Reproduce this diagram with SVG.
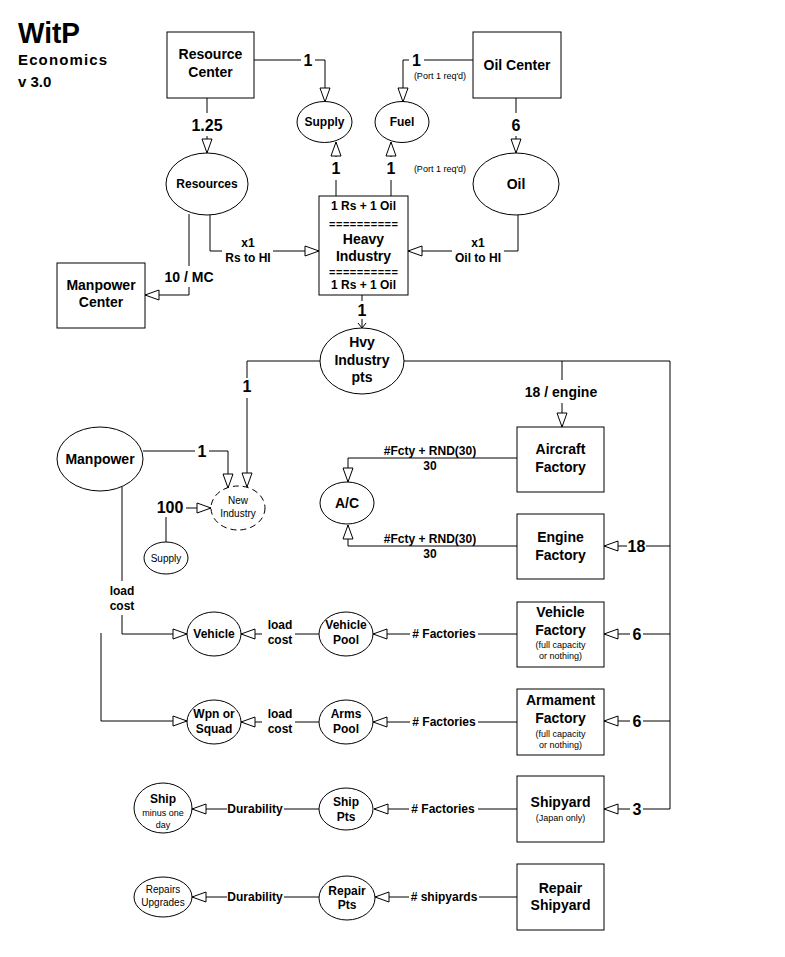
<svg xmlns="http://www.w3.org/2000/svg" width="785" height="957" viewBox="0 0 785 957">
<defs>
<style>
.n{fill:#fff;stroke:#000;stroke-width:1}
.d{stroke-dasharray:6,4}
.c{fill:none;stroke:#000;stroke-width:1}
.a{marker-end:url(#arr)}
.v{marker-end:url(#vee)}
text{font-family:"Liberation Sans",Arial,sans-serif;text-anchor:middle;fill:#000}
.b14{font-size:14px;font-weight:bold}
.b12{font-size:12px;font-weight:bold}
.b16{font-size:16px;font-weight:bold}
.eq{font-size:11px;font-weight:bold}
.r10{font-size:10px}
.r9{font-size:9px}
</style>
<marker id="arr" viewBox="-1 -1 16 12" refX="14" refY="5" markerWidth="16" markerHeight="12" markerUnits="userSpaceOnUse" orient="auto">
<path d="M0,0 L14,5 L0,10 Z" fill="#fff" stroke="#000" stroke-width="1"/>
</marker>
<marker id="vee" viewBox="-1 -1 7 10" refX="5" refY="4" markerWidth="7" markerHeight="10" markerUnits="userSpaceOnUse" orient="auto">
<path d="M0,0 L5,4 L0,8" fill="none" stroke="#000" stroke-width="1"/>
</marker>
</defs>
<rect width="785" height="957" fill="#fff"/>

<g id="title">
<text x="18" y="43" style="font-size:30px;font-weight:bold;text-anchor:start" textLength="62" lengthAdjust="spacingAndGlyphs">WitP</text>
<text x="18" y="65" style="font-size:15px;font-weight:bold;text-anchor:start" textLength="89">Economics</text>
<text x="18" y="87" style="font-size:15px;font-weight:bold;text-anchor:start">v 3.0</text>
</g>

<g id="connectors">
<path class="c" d="M254,60 H301"/>
<text class="b16" x="308" y="66">1</text>
<path class="c a" d="M315,60 H325 V102"/>
<path class="c" d="M473,60 H424"/>
<text class="b16" x="416.5" y="66">1</text>
<path class="c a" d="M409,60 H403 V102"/>
<text class="r9" x="440" y="79">(Port 1 req'd)</text>
<path class="c" d="M336,196 V180"/>
<text class="b16" x="336" y="174">1</text>
<path class="c a" d="M336,157 V142"/>
<path class="c" d="M391,196 V180"/>
<text class="b16" x="391" y="174">1</text>
<path class="c a" d="M391,157 V142"/>
<text class="r9" x="440" y="172">(Port 1 req'd)</text>
<path class="c" d="M516,98 V113"/>
<text class="b16" x="516" y="131">6</text>
<path class="c a" d="M516,136 V153"/>
<path class="c" d="M207,98 V113"/>
<text class="b16" x="207" y="131">1.25</text>
<path class="c a" d="M207,136 V153"/>
<path class="c" d="M210,215 V251 H222"/>
<text class="b12" x="248" y="247">x1</text>
<text class="b12" x="248" y="262">Rs to HI</text>
<path class="c a" d="M273,251 H319"/>
<path class="c" d="M189,214 V266"/>
<text class="b14" x="189" y="282">10 / MC</text>
<path class="c a" d="M189,287 V295 H145"/>
<path class="c" d="M518,215 V251 H504"/>
<text class="b12" x="478" y="247">x1</text>
<text class="b12" x="478" y="262">Oil to HI</text>
<path class="c a" d="M452,251 H408"/>
<path class="c" d="M362,295 V301"/>
<text class="b16" x="362" y="316">1</text>
<path class="c v" d="M362,319 V328"/>
<path class="c" d="M320,361 H247 V378"/>
<text class="b16" x="247" y="392">1</text>
<path class="c a" d="M247,398 V487"/>
<path class="c" d="M143,451 H195"/>
<text class="b16" x="202" y="457">1</text>
<path class="c a" d="M209,451 H228 V488"/>
<path class="c" d="M166,542 V517"/>
<text class="b16" x="170" y="513">100</text>
<path class="c a" d="M186,508 H211"/>
<path class="c" d="M122,487 V581"/>
<text class="b12" x="122" y="595">load</text>
<text class="b12" x="122" y="610">cost</text>
<path class="c a" d="M122,615 V634 H187"/>
<path class="c a" d="M101,633 V721 H187"/>
<path class="c" d="M319,634 H295"/>
<text class="b12" x="280" y="629">load</text>
<text class="b12" x="280" y="644">cost</text>
<path class="c a" d="M262,634 H241"/>
<path class="c" d="M319,722 H295"/>
<text class="b12" x="280" y="718">load</text>
<text class="b12" x="280" y="733">cost</text>
<path class="c a" d="M262,722 H241"/>
<path class="c" d="M517,634 H478"/>
<text class="b12" x="444" y="638">#  Factories</text>
<path class="c a" d="M410,634 H373"/>
<path class="c" d="M517,722 H478"/>
<text class="b12" x="444" y="726">#  Factories</text>
<path class="c a" d="M410,722 H373"/>
<path class="c" d="M404,361 H670 V809 H643"/>
<path class="c" d="M562,361 V380"/>
<text class="b14" x="561" y="397">18 / engine</text>
<path class="c a" d="M562,403 V427"/>
<path class="c" d="M670,546 H646"/>
<text class="b16" x="636.5" y="552">18</text>
<path class="c a" d="M627,546 H604"/>
<path class="c" d="M670,634 H643"/>
<text class="b16" x="637" y="640">6</text>
<path class="c a" d="M630,634 H604"/>
<path class="c" d="M670,721 H643"/>
<text class="b16" x="637" y="727">6</text>
<path class="c a" d="M630,721 H604"/>
<text class="b16" x="637" y="815">3</text>
<path class="c a" d="M630,809 H604"/>
<path class="c a" d="M517,458 H348 V482"/>
<text class="b12" x="430" y="455">#Fcty + RND(30)</text>
<text class="b12" x="430" y="470">30</text>
<path class="c a" d="M517,546 H348 V525"/>
<text class="b12" x="430" y="543">#Fcty + RND(30)</text>
<text class="b12" x="430" y="558">30</text>
<path class="c" d="M319,809 H284"/>
<text class="b12" x="255" y="813">Durability</text>
<path class="c a" d="M227,809 H192"/>
<path class="c" d="M517,809 H478"/>
<text class="b12" x="443" y="813">#  Factories</text>
<path class="c a" d="M409,809 H374"/>
<path class="c" d="M319,897 H284"/>
<text class="b12" x="255" y="901">Durability</text>
<path class="c a" d="M227,897 H192"/>
<path class="c" d="M517,897 H479"/>
<text class="b12" x="444" y="901"># shipyards</text>
<path class="c a" d="M409,897 H375"/>
</g>

<g id="resource-center"><rect class="n" x="167" y="32" width="87" height="66"/><text class="b14" x="210.5" y="59">Resource</text><text class="b14" x="210.5" y="77">Center</text></g>
<g id="oil-center"><rect class="n" x="473" y="32" width="88" height="66"/><text class="b14" x="517" y="70">Oil Center</text></g>
<g id="supply"><ellipse class="n" cx="324.5" cy="122" rx="27.5" ry="20.5"/><text class="b12" x="324.5" y="126">Supply</text></g>
<g id="fuel"><ellipse class="n" cx="402" cy="122" rx="27" ry="20.5"/><text class="b12" x="402" y="126">Fuel</text></g>
<g id="oil"><ellipse class="n" cx="516" cy="184" rx="43" ry="31"/><text class="b14" x="516" y="189">Oil</text></g>
<g id="resources"><ellipse class="n" cx="207" cy="184" rx="41" ry="31"/><text class="b12" x="207" y="188">Resources</text></g>
<g id="heavy-industry"><rect class="n" x="319" y="196" width="89" height="99"/><text class="b12" x="363.5" y="210">1 Rs + 1 Oil</text><text class="eq" x="363.5" y="228" textLength="69">==========</text><text class="b14" x="363.5" y="244">Heavy</text><text class="b14" x="363.5" y="261">Industry</text><text class="eq" x="363.5" y="276" textLength="69">==========</text><text class="b12" x="363.5" y="289">1 Rs + 1 Oil</text></g>
<g id="hvy-industry-pts"><ellipse class="n" cx="362" cy="361" rx="42" ry="33"/><text class="b14" x="362" y="347">Hvy</text><text class="b14" x="362" y="365">Industry</text><text class="b14" x="362" y="382">pts</text></g>
<g id="manpower-center"><rect class="n" x="57" y="263" width="88" height="65"/><text class="b14" x="101" y="290">Manpower</text><text class="b14" x="101" y="307">Center</text></g>
<g id="manpower"><ellipse class="n" cx="100" cy="459" rx="43" ry="32"/><text class="b14" x="100" y="464">Manpower</text></g>
<g id="new-industry"><ellipse class="n d" cx="238" cy="508" rx="27" ry="22"/><text class="r10" x="238" y="504">New</text><text class="r10" x="238" y="517">Industry</text></g>
<g id="supply-small"><ellipse class="n" cx="166" cy="558" rx="22" ry="16"/><text class="r10" x="166" y="562">Supply</text></g>
<g id="ac"><ellipse class="n" cx="347" cy="503" rx="27" ry="21"/><text class="b14" x="347" y="508">A/C</text></g>
<g id="aircraft-factory"><rect class="n" x="517" y="427" width="87" height="65"/><text class="b14" x="560.5" y="454">Aircraft</text><text class="b14" x="560.5" y="472">Factory</text></g>
<g id="engine-factory"><rect class="n" x="517" y="514" width="87" height="65"/><text class="b14" x="560.5" y="542">Engine</text><text class="b14" x="560.5" y="560">Factory</text></g>
<g id="vehicle-factory"><rect class="n" x="517" y="602" width="87" height="65"/><text class="b14" x="560.5" y="617">Vehicle</text><text class="b14" x="560.5" y="635">Factory</text><text class="r9" x="560.5" y="648">(full capacity</text><text class="r9" x="560.5" y="659">or nothing)</text></g>
<g id="armament-factory"><rect class="n" x="517" y="689" width="87" height="66"/><text class="b14" x="560.5" y="705">Armament</text><text class="b14" x="560.5" y="723">Factory</text><text class="r9" x="560.5" y="737">(full capacity</text><text class="r9" x="560.5" y="748">or nothing)</text></g>
<g id="shipyard"><rect class="n" x="517" y="776" width="87" height="66"/><text class="b14" x="560.5" y="807">Shipyard</text><text class="r9" x="560.5" y="821">(Japan only)</text></g>
<g id="repair-shipyard"><rect class="n" x="517" y="864" width="87" height="66"/><text class="b14" x="560.5" y="893">Repair</text><text class="b14" x="560.5" y="910">Shipyard</text></g>
<g id="vehicle"><ellipse class="n" cx="214" cy="634" rx="27" ry="22"/><text class="b12" x="214" y="638">Vehicle</text></g>
<g id="vehicle-pool"><ellipse class="n" cx="346" cy="634" rx="27" ry="22"/><text class="b12" x="346" y="629">Vehicle</text><text class="b12" x="346" y="644">Pool</text></g>
<g id="wpn-squad"><ellipse class="n" cx="214" cy="722" rx="27" ry="22"/><text class="b12" x="214" y="718">Wpn or</text><text class="b12" x="214" y="733">Squad</text></g>
<g id="arms-pool"><ellipse class="n" cx="346" cy="722" rx="27" ry="22"/><text class="b12" x="346" y="718">Arms</text><text class="b12" x="346" y="733">Pool</text></g>
<g id="ship"><ellipse class="n" cx="163" cy="808" rx="29" ry="25"/><text class="b12" x="163" y="803">Ship</text><text class="r9" x="163" y="816">minus one</text><text class="r9" x="163" y="828">day</text></g>
<g id="ship-pts"><ellipse class="n" cx="346" cy="809" rx="27" ry="21"/><text class="b12" x="346" y="806">Ship</text><text class="b12" x="346" y="821">Pts</text></g>
<g id="repairs-upgrades"><ellipse class="n" cx="163" cy="897" rx="29" ry="20"/><text class="r10" x="163" y="893">Repairs</text><text class="r10" x="163" y="906">Upgrades</text></g>
<g id="repair-pts"><ellipse class="n" cx="347" cy="898" rx="28" ry="22"/><text class="b12" x="347" y="895">Repair</text><text class="b12" x="347" y="909">Pts</text></g>
</svg>
